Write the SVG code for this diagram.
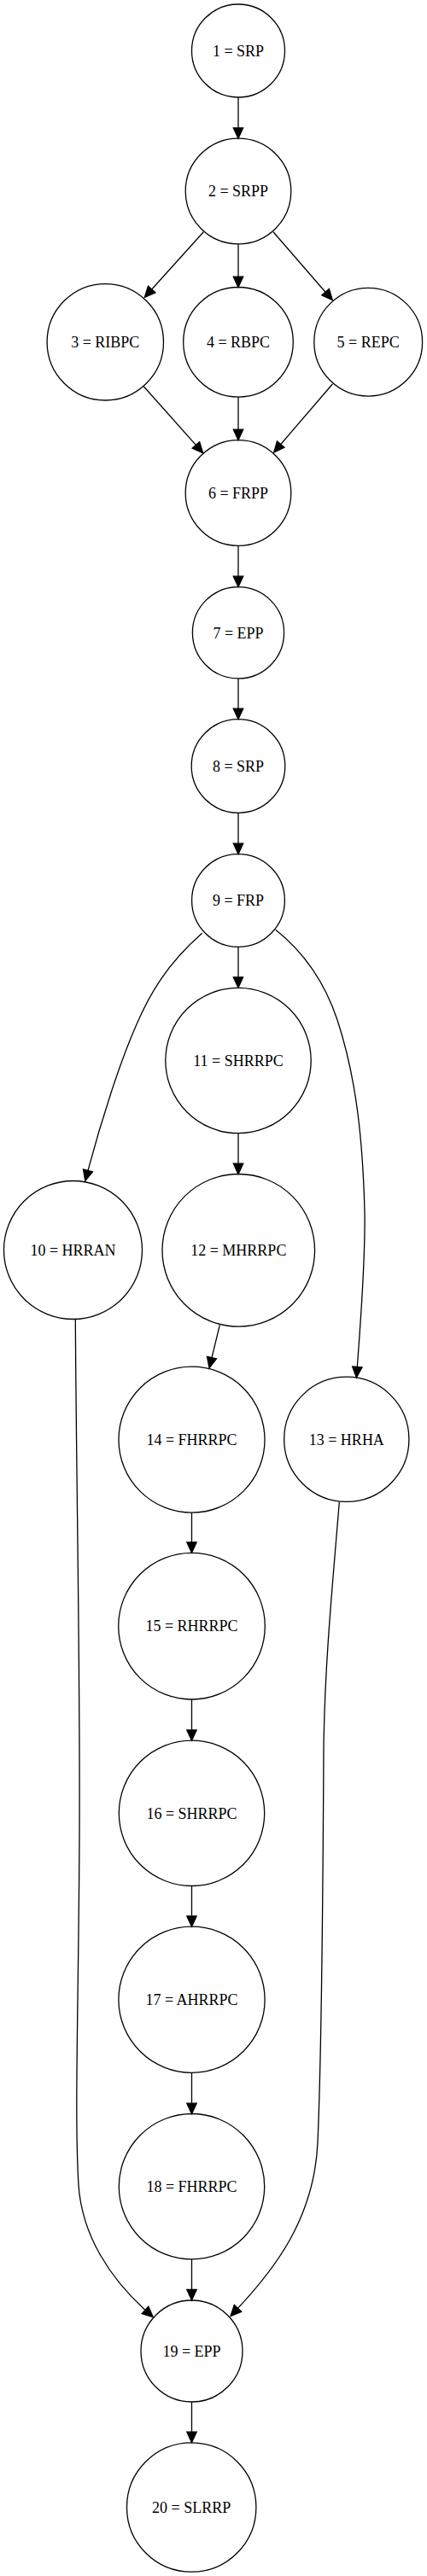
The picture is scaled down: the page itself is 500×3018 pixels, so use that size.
<svg xmlns="http://www.w3.org/2000/svg" width="500" height="3018" viewBox="0 0 500 3018">
<style>
.n circle{fill:none;stroke:#000;stroke-width:1.3}
.n text{font-family:"Liberation Serif","Times New Roman",serif;font-size:18px;fill:#000;text-anchor:middle}
.e path{fill:none;stroke:#000;stroke-width:1.3;marker-end:url(#ah)}
</style>
<defs>
<marker id="ah" markerUnits="userSpaceOnUse" markerWidth="16" markerHeight="16" refX="0" refY="6" orient="auto" overflow="visible">
<path d="M0,0.3 L12.5,6 L0,11.7 Z" fill="#000" stroke="#000" stroke-width="1.3"/>
</marker>
</defs>
<rect width="500" height="3018" fill="#fff"/>
<g id="edges" class="e">
<path d="M279,114 L279,149.8"/>
<path d="M238.3,271.7 L177.7,339"/>
<path d="M279,285.7 L279,324.2"/>
<path d="M320,271.7 L381.1,342.2"/>
<path d="M168.3,452.7 L229.4,521.4"/>
<path d="M279,465 L279,503.2"/>
<path d="M389.3,450 L328.8,520.5"/>
<path d="M279,639.3 L279,675.2"/>
<path d="M279,795 L279,830.2"/>
<path d="M279,952.3 L279,988.2"/>
<path d="M279,1109.3 L279,1144.8"/>
<path d="M236.7,1093.3 C195,1130 175,1165 160,1200 C140,1245 118,1315 103,1371.4"/>
<path d="M322.7,1089.3 C355,1115 380,1150 395,1195 C418,1265 425,1340 427,1420 C428,1480 422,1550 418.3,1601.5"/>
<path d="M279,1327.7 L279,1363.2"/>
<path d="M257.3,1552.3 L248,1590.6"/>
<path d="M224.5,1772.3 L224.5,1806.8"/>
<path d="M224.5,1991 L224.5,2026.8"/>
<path d="M224.5,2209.3 L224.5,2244.8"/>
<path d="M224.5,2428.3 L224.5,2464.2"/>
<path d="M224.5,2646.7 L224.5,2682.5"/>
<path d="M88.3,1545 C89.5,1750 94,1950 93,2150 C92,2350 87,2480 92,2560 C96,2620 130,2670 170,2706.4"/>
<path d="M397.3,1760 C390,1850 380,1950 379,2050 C378,2250 376,2420 372,2510 C368,2600 320,2660 278.5,2704.4"/>
<path d="M224.5,2814 L224.5,2849.2"/>
</g>
<g id="n1" class="n"><circle cx="279" cy="59.5" r="54.5"/><text x="279" y="65.7">1 = SRP</text></g>
<g id="n2" class="n"><circle cx="279" cy="224" r="61.8"/><text x="279" y="230.2">2 = SRPP</text></g>
<g id="n3" class="n"><circle cx="123.3" cy="400.8" r="68.2"/><text x="123.3" y="407">3 = RIBPC</text></g>
<g id="n4" class="n"><circle cx="279" cy="400.8" r="64.3"/><text x="279" y="407">4 = RBPC</text></g>
<g id="n5" class="n"><circle cx="431.2" cy="400.7" r="63.4"/><text x="431.2" y="407">5 = REPC</text></g>
<g id="n6" class="n"><circle cx="279" cy="577.5" r="61.8"/><text x="279" y="583.7">6 = FRPP</text></g>
<g id="n7" class="n"><circle cx="279" cy="741.3" r="53.6"/><text x="279" y="747.5">7 = EPP</text></g>
<g id="n8" class="n"><circle cx="279" cy="897.5" r="54.8"/><text x="279" y="903.7">8 = SRP</text></g>
<g id="n9" class="n"><circle cx="279" cy="1055" r="54.4"/><text x="279" y="1061.2">9 = FRP</text></g>
<g id="n10" class="n"><circle cx="85.5" cy="1464.5" r="81"/><text x="85.5" y="1470.7">10 = HRRAN</text></g>
<g id="n11" class="n"><circle cx="279" cy="1242.5" r="85.2"/><text x="279" y="1248.7">11 = SHRRPC</text></g>
<g id="n12" class="n"><circle cx="279.3" cy="1464.8" r="89.3"/><text x="279.3" y="1471">12 = MHRRPC</text></g>
<g id="n13" class="n"><circle cx="405.8" cy="1686.3" r="73.1"/><text x="405.8" y="1692.5">13 = HRHA</text></g>
<g id="n14" class="n"><circle cx="224.5" cy="1686.7" r="85.5"/><text x="224.5" y="1692.9">14 = FHRRPC</text></g>
<g id="n15" class="n"><circle cx="224.5" cy="1905.2" r="85.8"/><text x="224.5" y="1911.4">15 = RHRRPC</text></g>
<g id="n16" class="n"><circle cx="224.5" cy="2124.3" r="85.2"/><text x="224.5" y="2130.5">16 = SHRRPC</text></g>
<g id="n17" class="n"><circle cx="224.5" cy="2342.8" r="85.6"/><text x="224.5" y="2349">17 = AHRRPC</text></g>
<g id="n18" class="n"><circle cx="224.5" cy="2561.7" r="85.2"/><text x="224.5" y="2567.9">18 = FHRRPC</text></g>
<g id="n19" class="n"><circle cx="224.5" cy="2754.5" r="59.5"/><text x="224.5" y="2760.7">19 = EPP</text></g>
<g id="n20" class="n"><circle cx="224.2" cy="2937.5" r="75.7"/><text x="224.2" y="2943.7">20 = SLRRP</text></g>
</svg>
